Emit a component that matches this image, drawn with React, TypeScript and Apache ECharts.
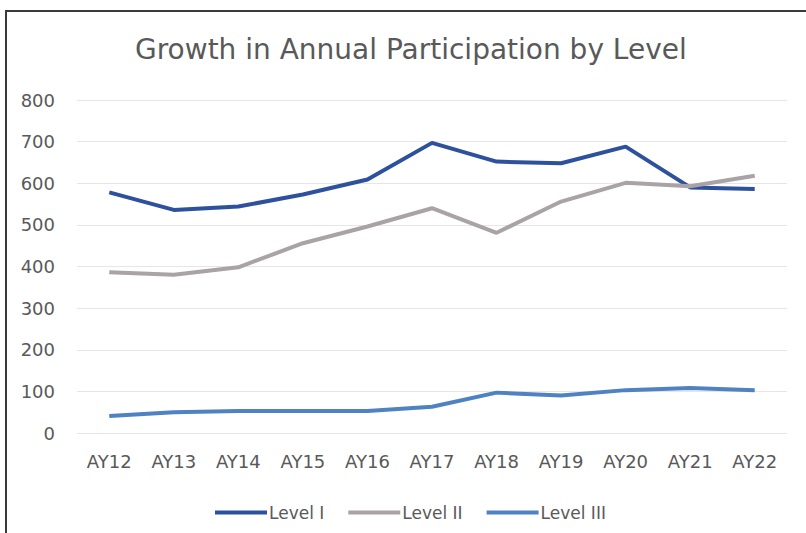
import React, { useEffect, useRef } from "react";
import * as echarts from "echarts";

const categories = ["AY12", "AY13", "AY14", "AY15", "AY16", "AY17", "AY18", "AY19", "AY20", "AY21", "AY22"];
const levelI = [578, 536, 544, 573, 609, 697, 652, 648, 688, 590, 586];
const levelII = [386, 380, 398, 456, 496, 540, 481, 556, 601, 593, 618];
const levelIII = [41, 50, 53, 53, 53, 63, 97, 90, 103, 108, 103];
const seriesNames = ["Level I", "Level II", "Level III"];
const title = "Growth in Annual Participation by Level";

const FONT = "'DejaVu Sans', sans-serif";

export default function App() {
  const ref = useRef<HTMLDivElement>(null);
  useEffect(() => {
    if (!ref.current) return;
    const chart = echarts.init(ref.current, undefined, { renderer: "svg" });
    const colors = ["#2E519E", "#A9A2A6", "#4F82C2"];
    const data = [levelI, levelII, levelIII];
    chart.setOption({
      animation: false,
      backgroundColor: "#ffffff",
      title: {
        text: title,
        left: 130,
        top: 30,
        textStyle: { fontFamily: FONT, fontSize: 28, fontWeight: "normal", color: "#595959" },
      },
      grid: { left: 77, right: 19, top: 100, bottom: 100 },
      xAxis: {
        type: "category",
        data: categories,
        boundaryGap: true,
        axisLine: { show: false },
        axisTick: { show: false },
        axisLabel: { fontFamily: FONT, fontSize: 18, color: "#595959", margin: 19 },
      },
      yAxis: {
        type: "value",
        min: 0,
        max: 800,
        interval: 100,
        axisLine: { show: false },
        axisTick: { show: false },
        splitLine: { lineStyle: { color: "#E6E6E6", width: 1 } },
        axisLabel: { fontFamily: FONT, fontSize: 18, color: "#595959", margin: 22 },
      },
      legend: {
        data: seriesNames,
        bottom: 7,
        left: 210,
        icon: "rect",
        itemWidth: 52,
        itemHeight: 4,
        itemGap: 24,
        textStyle: { fontFamily: FONT, fontSize: 17, color: "#595959", padding: [0, 0, 0, -3] },
      },
      series: seriesNames.map((name, i) => ({
        name,
        type: "line",
        data: data[i],
        symbol: "none",
        lineStyle: { width: 4, color: colors[i] },
        itemStyle: { color: colors[i] },
      })),
      graphic: [
        {
          type: "polyline",
          shape: { points: [[6, 533], [6, 11], [806, 11]] },
          style: { stroke: "#3a3a3a", lineWidth: 2, fill: "none" },
        },
      ],
    });
    return () => chart.dispose();
  }, []);
  return <div ref={ref} style={{ position: "absolute", left: 0, top: 0, width: 806, height: 533 }} />;
}
